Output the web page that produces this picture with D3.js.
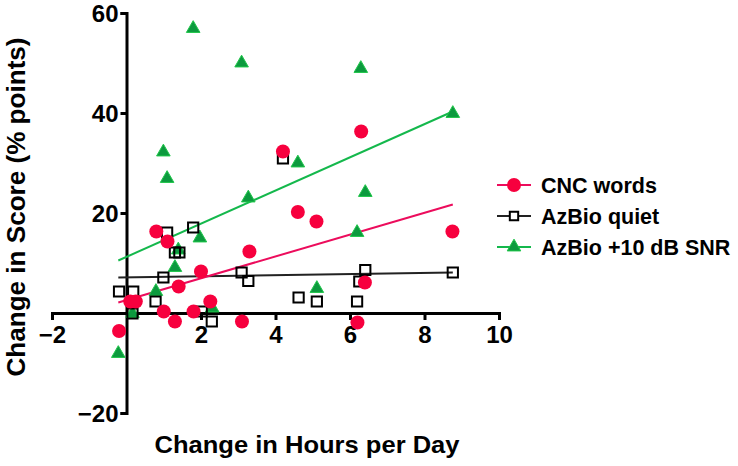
<!DOCTYPE html>
<html><head><meta charset="utf-8">
<script src="https://cdn.jsdelivr.net/npm/d3@7"></script>
<style>body{margin:0;background:#fff} text{font-family:"Liberation Sans",Arial,sans-serif;fill:#000;font-weight:bold}</style>
</head><body><svg id="c" width="738" height="466"></svg>
<script>
// ---- data ----
const seriesNames = ["CNC words", "AzBio quiet", "AzBio +10 dB SNR"];
const cncX = [0.8, 1.1, 2.0, 1.4, 0.1, 0.25, 2.25, 1.0, 1.8, 1.3, 3.1, -0.2, 6.2, 6.4, 6.3, 4.2, 4.6, 5.1, 8.75, 3.3];
const cncY = [16.3, 14.3, 8.3, 5.3, 2.3, 2.3, 2.3, 0.3, 0.3, -1.7, -1.7, -3.6, -1.9, 6.1, 36.3, 32.3, 20.2, 18.3, 16.3, 12.3];
const quietX = [1.09, 1.79, 1.3, 1.42, 0.99, 3.09, 3.27, -0.2, 0.18, 0.78, 0.16, 2.02, 2.29, 6.41, 8.76, 6.25, 4.62, 5.11, 6.19, 4.2];
const quietY = [16.1, 17.1, 12.1, 12.1, 7.1, 8.1, 6.4, 4.3, 4.3, 2.3, -0.1, 0.3, -1.7, 8.6, 8.1, 6.3, 3.1, 2.3, 2.3, 30.9];
const snrX = [1.79, 3.09, 0.99, 1.09, 3.27, 1.97, 1.39, 1.3, 0.79, 0.16, 2.3, -0.22, 5.11, 6.29, 8.76, 4.6, 6.41, 6.19];
const snrY = [56.9, 50.0, 32.2, 26.9, 23.0, 15.0, 12.6, 9.1, 4.3, -0.1, 1.0, -8.1, 4.9, 48.9, 39.9, 30.0, 24.1, 16.1];
// regression lines: endpoints at x = -0.22 and 8.76
const fitX = [-0.22, 8.76];
const cncFitY = [2.1, 21.7];
const quietFitY = [7.1, 8.1];
const snrFitY = [10.5, 40.3];
const xTicks = [-2, 2, 4, 6, 8, 10];
const yTicks = [-20, 20, 40, 60];

// ---- chart ----
const svg = d3.select("#c");
const x = d3.scaleLinear().domain([-2, 10]).range([52, 499]);
const y = d3.scaleLinear().domain([-20, 60]).range([413, 13]);

const colRed = "#f7003e", colRedLine = "#ec0c5c";
const colGreen = "#0c9a3e", colGreenEdge = "#1fc74a", colGreenLine = "#14b84c";

// axes
const xAxis = svg.append("g").attr("transform", `translate(0,${y(0)})`)
  .call(d3.axisBottom(x).tickValues(xTicks).tickSize(7).tickPadding(6).tickFormat(d3.format("d")));
const yAxis = svg.append("g").attr("transform", `translate(${x(0)},0)`)
  .call(d3.axisLeft(y).tickValues(yTicks).tickSize(6).tickPadding(2).tickFormat(d3.format("d")));
[xAxis, yAxis].forEach(g => {
  g.select(".domain").attr("stroke", "#000").attr("stroke-width", 3);
  g.selectAll(".tick line").attr("stroke", "#000").attr("stroke-width", 3);
  g.selectAll(".tick text").attr("font-size", 24).attr("font-family", "Liberation Sans, Arial, sans-serif")
    .attr("font-weight", "bold").attr("fill", "#000");
});
yAxis.selectAll(".tick text").attr("dy", "0.36em");

// fit lines
const line = d3.line().x(d => x(d[0])).y(d => y(d[1]));
const fits = [[snrFitY, colGreenLine], [quietFitY, "#222"], [cncFitY, colRedLine]];
fits.forEach(([fy, c]) => {
  svg.append("path").attr("d", line(fitX.map((v, i) => [v, fy[i]])))
    .attr("fill", "none").attr("stroke", c).attr("stroke-width", 2);
});

const tri = d3.symbol().type(d3.symbolTriangle).size(80);
const sq = d3.symbol().type(d3.symbolSquare).size(105);

// green triangles
svg.append("g").selectAll("path").data(snrX.map((v, i) => [v, snrY[i]])).join("path")
  .attr("d", tri).attr("transform", d => `translate(${x(d[0])},${y(d[1])})`)
  .attr("fill", colGreen).attr("stroke", colGreenEdge).attr("stroke-width", 1);
// open squares
svg.append("g").selectAll("path").data(quietX.map((v, i) => [v, quietY[i]])).join("path")
  .attr("d", sq).attr("transform", d => `translate(${x(d[0])},${y(d[1])})`)
  .attr("fill", "none").attr("stroke", "#000").attr("stroke-width", 2);
// red circles
svg.append("g").selectAll("circle").data(cncX.map((v, i) => [v, cncY[i]])).join("circle")
  .attr("cx", d => x(d[0])).attr("cy", d => y(d[1])).attr("r", 7).attr("fill", colRed);

// axis titles
svg.append("text").attr("x", 307).attr("y", 453).attr("text-anchor", "middle")
  .attr("font-size", 24).attr("textLength", 305).attr("lengthAdjust", "spacingAndGlyphs")
  .text("Change in Hours per Day");
svg.append("text").attr("transform", "translate(25,207) rotate(-90)").attr("text-anchor", "middle")
  .attr("font-size", 26).attr("textLength", 339).attr("lengthAdjust", "spacingAndGlyphs")
  .text("Change in Score (% points)");

// legend
const legY = [185, 216, 247];
const leg = svg.append("g");
seriesNames.forEach((name, i) => {
  const g = leg.append("g").attr("transform", `translate(0,${legY[i]})`);
  const lc = [colRedLine, "#222", colGreenLine][i];
  g.append("line").attr("x1", 497).attr("x2", 531).attr("stroke", lc).attr("stroke-width", 2);
  if (i === 0) g.append("circle").attr("cx", 514).attr("r", 7).attr("fill", colRed);
  if (i === 1) g.append("path").attr("d", d3.symbol().type(d3.symbolSquare).size(70)).attr("transform", "translate(514,0)")
    .attr("fill", "#fff").attr("stroke", "#000").attr("stroke-width", 2);
  if (i === 2) g.append("path").attr("d", tri).attr("transform", "translate(514,0)")
    .attr("fill", colGreen).attr("stroke", colGreenEdge).attr("stroke-width", 1);
  g.append("text").attr("x", 541).attr("dy", "0.36em").attr("font-size", 21.5).text(name);
});
</script></body></html>
